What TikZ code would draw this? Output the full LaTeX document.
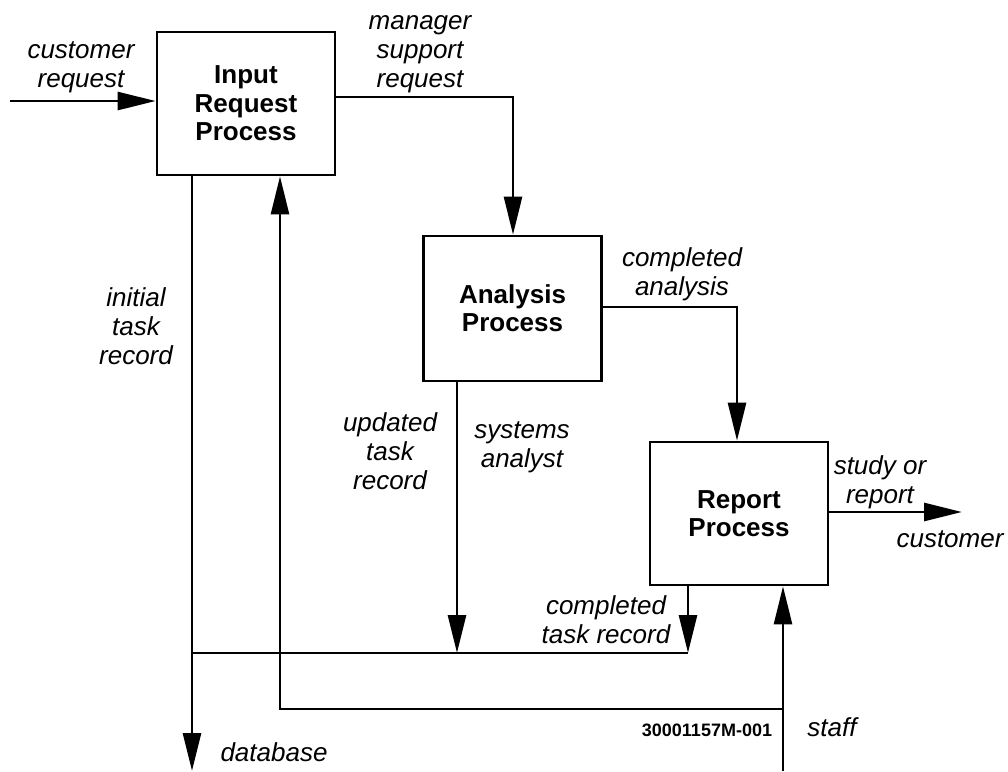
\documentclass[tikz,border=0pt]{standalone}
\usepackage{fontspec}
\setmainfont{Liberation Sans}
\usetikzlibrary{arrows.meta}
\begin{document}
\begin{tikzpicture}[x=0.5pt,y=-0.5pt,
  line width=1.4pt,
  procbox/.style={draw,line width=1.4pt,minimum width=89pt,minimum height=71.5pt,
    align=center,font=\fontsize{13}{14.2}\selectfont\bfseries,inner sep=0pt},
  flow/.style={-{Triangle[length=19pt,width=9pt]}},
  lbl/.style={align=center,inner sep=0pt,font=\fontsize{13}{14.5}\selectfont\itshape},
  code/.style={inner sep=0pt,font=\fontsize{9}{10}\selectfont\bfseries}]
\useasboundingbox (0,0) rectangle (1008,772);

% process boxes
\node[procbox] (inbox) at (246,103.5) {Input\\Request\\Process};
\node[procbox,minimum height=72.5pt] (anbox) at (512.5,308.5) {Analysis\\Process};
\node[procbox] (rpbox) at (739,513.5) {Report\\Process};

% free ends and junctions
\coordinate (cin) at (10,101);
\coordinate (mgr) at (513,97);
\coordinate (cpa) at (737,307);
\coordinate (sout) at (962,512);
\coordinate (db) at (192,771);
\coordinate (ja) at (192,653);
\coordinate (jb) at (688,653);
\coordinate (jc) at (457,653);
\coordinate (st) at (783,771);
\coordinate (fa) at (783,709);
\coordinate (fb) at (280,709);

% connectors
\draw[flow] (cin) -- (cin -| inbox.west);
\draw[flow] (mgr -| inbox.east) -- (mgr) -- (mgr |- anbox.north);
\draw[flow] (cpa -| anbox.east) -- (cpa) -- (cpa |- rpbox.north);
\draw[flow] (sout -| rpbox.east) -- (sout);
\draw[flow] (db |- inbox.south) -- (db);
\draw (ja) -- (jb);
\draw[flow] (jc |- anbox.south) -- (jc);
\draw[flow] (jb |- rpbox.south) -- (jb);
\draw[flow] (st) -- (st |- rpbox.south);
\draw[flow] (fa) -- (fb) -- (fb |- inbox.south);

% labels
\node[lbl] (l1) at (81,67) {customer\\request};
\node[lbl] (l2) at (420,54) {manager\\support\\request};
\node[lbl] (l3) at (136,326) {initial\\task\\record};
\node[lbl] (l4) at (390,451) {updated\\task\\record};
\node[lbl] (l5) at (522,447) {systems\\analyst};
\node[lbl] (l6) at (682,274) {completed\\analysis};
\node[lbl] (l7) at (880,482) {study or\\report};
\node[lbl] (l8) at (950,539) {customer};
\node[lbl] (l9) at (606,620) {completed\\task record};
\node[lbl] (l10) at (832,727) {staff};
\node[lbl] (l11) at (274,752) {database};
\node[code] (l12) at (707,730) {30001157M-001};
\end{tikzpicture}
\end{document}
